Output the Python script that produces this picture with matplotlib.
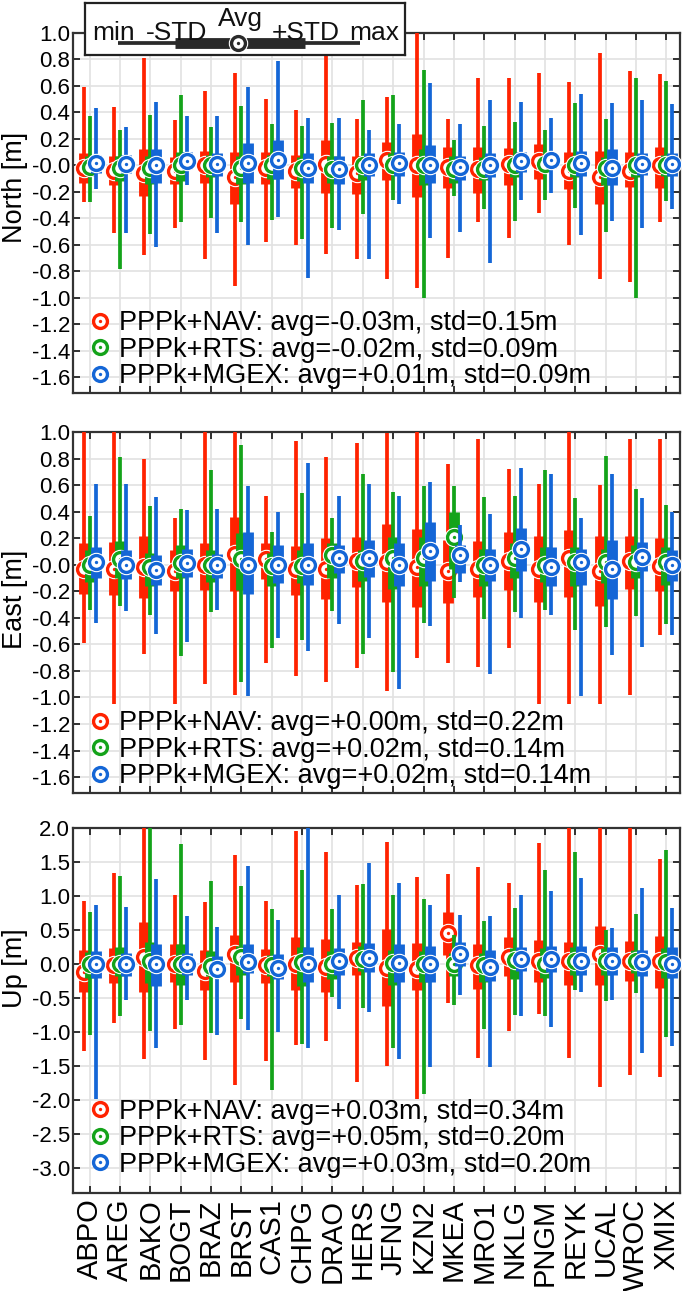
import numpy as np
import matplotlib
matplotlib.use("Agg")
import matplotlib.pyplot as plt
from matplotlib.lines import Line2D
from matplotlib.legend_handler import HandlerTuple

plt.rcParams['font.family'] = ['Liberation Sans', 'DejaVu Sans']
plt.rcParams['axes.unicode_minus'] = False

stations = ["ABPO", "AREG", "BAKO", "BOGT", "BRAZ", "BRST", "CAS1", "CHPG", "DRAO", "HERS",
            "JFNG", "KZN2", "MKEA", "MRO1", "NKLG", "PNGM", "REYK", "UCAL", "WROC", "XMIX"]

# ---- North [m] ----
north_nav_min = [-0.28, -0.51, -0.68, -0.47, -0.71, -0.91, -0.58, -0.60, -0.67, -0.71, -0.86, -0.93, -0.70, -0.43, -0.55, -0.36, -0.60, -0.86, -0.88, -0.43]
north_nav_lo = [-0.13, -0.15, -0.23, -0.14, -0.13, -0.29, -0.14, -0.17, -0.21, -0.22, -0.11, -0.24, -0.17, -0.21, -0.15, -0.10, -0.18, -0.29, -0.16, -0.17]
north_nav_avg = [-0.02, -0.04, -0.06, -0.04, 0.00, -0.09, -0.02, -0.04, 0.01, -0.06, 0.04, 0.00, -0.01, -0.03, 0.01, 0.03, -0.04, -0.09, -0.04, 0.00]
north_nav_hi = [0.09, 0.07, 0.12, 0.06, 0.11, 0.10, 0.10, 0.08, 0.19, 0.07, 0.18, 0.24, 0.14, 0.14, 0.13, 0.16, 0.10, 0.11, 0.10, 0.14]
north_nav_max = [0.59, 0.44, 0.81, 0.34, 0.56, 0.70, 0.50, 0.42, 0.87, 0.35, 0.52, 1.05, 0.35, 0.66, 0.66, 0.70, 0.63, 0.85, 0.71, 0.69]

north_rts_min = [-0.28, -0.78, -0.52, -0.43, -0.40, -0.43, -0.41, -0.56, -0.47, -0.37, -0.26, -1.00, -0.23, -0.33, -0.42, -0.26, -0.32, -0.50, -1.00, -0.27]
north_rts_lo = [-0.08, -0.12, -0.14, -0.12, -0.09, -0.14, -0.10, -0.12, -0.13, -0.11, -0.05, -0.15, -0.13, -0.11, -0.09, -0.05, -0.09, -0.15, -0.09, -0.08]
north_rts_avg = [-0.01, -0.02, -0.02, 0.00, 0.00, -0.02, 0.00, -0.02, -0.03, 0.00, 0.00, 0.00, -0.03, -0.03, 0.00, 0.01, 0.00, -0.02, 0.00, 0.00]
north_rts_hi = [0.07, 0.07, 0.07, 0.10, 0.08, 0.07, 0.08, 0.06, 0.07, 0.07, 0.09, 0.12, 0.07, 0.06, 0.07, 0.07, 0.07, 0.06, 0.07, 0.08]
north_rts_max = [0.37, 0.27, 0.38, 0.53, 0.29, 0.45, 0.31, 0.30, 0.32, 0.49, 0.53, 0.72, 0.19, 0.30, 0.33, 0.27, 0.47, 0.35, 0.66, 0.64]

north_mgex_min = [-0.18, -0.51, -0.62, -0.15, -0.51, -0.60, -0.39, -0.85, -0.49, -0.71, -0.29, -0.55, -0.50, -0.74, -0.26, -0.21, -0.53, -0.42, -0.47, -0.33]
north_mgex_lo = [-0.06, -0.06, -0.13, -0.03, -0.08, -0.13, -0.10, -0.13, -0.14, -0.08, -0.08, -0.13, -0.11, -0.09, -0.05, -0.02, -0.08, -0.15, -0.07, -0.08]
north_mgex_avg = [0.02, 0.01, 0.00, 0.03, 0.01, 0.02, 0.04, -0.02, -0.03, 0.00, 0.02, 0.00, -0.01, 0.00, 0.03, 0.04, 0.02, -0.02, 0.01, 0.01]
north_mgex_hi = [0.08, 0.08, 0.12, 0.10, 0.09, 0.17, 0.19, 0.09, 0.07, 0.09, 0.10, 0.15, 0.07, 0.09, 0.10, 0.09, 0.11, 0.12, 0.09, 0.09]
north_mgex_max = [0.43, 0.29, 0.48, 0.37, 0.37, 0.59, 0.79, 0.36, 0.36, 0.27, 0.31, 0.62, 0.31, 0.49, 0.48, 0.36, 0.54, 0.47, 0.49, 0.46]

# ---- East [m] ----
east_nav_min = [-0.59, -1.05, -0.67, -1.05, -0.90, -0.98, -0.74, -0.84, -0.88, -0.78, -0.95, -0.70, -0.74, -0.77, -0.63, -1.05, -1.05, -1.05, -0.98, -0.53]
east_nav_lo = [-0.22, -0.23, -0.25, -0.20, -0.19, -0.20, -0.11, -0.23, -0.26, -0.17, -0.28, -0.32, -0.29, -0.24, -0.19, -0.28, -0.24, -0.31, -0.18, -0.20]
east_nav_avg = [-0.03, -0.03, -0.02, -0.05, 0.00, 0.08, 0.04, -0.03, -0.03, 0.03, 0.02, -0.02, -0.05, -0.03, 0.03, -0.03, 0.05, -0.05, 0.03, -0.01]
east_nav_hi = [0.16, 0.17, 0.22, 0.11, 0.16, 0.36, 0.16, 0.14, 0.20, 0.21, 0.31, 0.27, 0.19, 0.18, 0.25, 0.22, 0.26, 0.22, 0.22, 0.20]
east_nav_max = [1.05, 1.05, 0.80, 0.35, 1.05, 1.05, 0.52, 0.93, 0.81, 0.92, 0.99, 1.05, 0.76, 0.95, 0.72, 0.61, 1.05, 0.60, 0.95, 0.95]

east_rts_min = [-0.34, -0.31, -0.38, -0.69, -0.36, -0.88, -0.63, -0.57, -0.35, -0.67, -0.81, -0.44, -0.25, -0.41, -0.36, -0.34, -0.49, -0.47, -0.39, -0.45]
east_rts_lo = [-0.13, -0.10, -0.16, -0.10, -0.13, -0.19, -0.16, -0.14, -0.10, -0.12, -0.18, -0.16, -0.03, -0.16, -0.10, -0.13, -0.16, -0.14, -0.10, -0.15]
east_rts_avg = [0.00, 0.04, -0.02, 0.01, 0.00, 0.04, -0.01, -0.01, 0.07, 0.03, 0.05, 0.05, 0.21, 0.00, 0.05, 0.00, 0.02, 0.02, 0.02, 0.02]
east_rts_hi = [0.11, 0.18, 0.09, 0.15, 0.11, 0.24, 0.09, 0.11, 0.16, 0.11, 0.21, 0.21, 0.40, 0.12, 0.16, 0.13, 0.13, 0.12, 0.15, 0.13]
east_rts_max = [0.37, 0.81, 0.44, 0.42, 0.71, 0.90, 0.25, 0.54, 0.35, 0.68, 0.55, 0.59, 0.59, 0.51, 0.52, 0.71, 0.50, 0.82, 0.57, 0.45]

east_mgex_min = [-0.44, -0.35, -0.52, -0.58, -0.34, -0.99, -0.55, -0.65, -0.45, -0.55, -0.94, -0.46, -0.13, -0.82, -0.40, -0.38, -0.99, -0.68, -0.62, -0.53]
east_mgex_lo = [-0.10, -0.11, -0.15, -0.09, -0.10, -0.22, -0.14, -0.15, -0.06, -0.09, -0.16, -0.12, -0.06, -0.12, -0.05, -0.16, -0.15, -0.26, -0.05, -0.12]
east_mgex_avg = [0.02, 0.00, -0.04, 0.01, 0.00, 0.00, 0.00, 0.00, 0.05, 0.05, 0.00, 0.10, 0.07, 0.00, 0.12, -0.02, 0.02, -0.03, 0.06, 0.00]
east_mgex_hi = [0.13, 0.11, 0.07, 0.12, 0.08, 0.25, 0.15, 0.16, 0.15, 0.19, 0.16, 0.32, 0.15, 0.12, 0.28, 0.13, 0.12, 0.19, 0.17, 0.11]
east_mgex_max = [0.61, 0.61, 0.51, 0.41, 0.42, 0.59, 0.40, 0.77, 0.52, 0.61, 0.52, 0.62, 0.30, 0.38, 0.73, 0.68, 0.35, 0.68, 0.50, 0.40]

# ---- Up [m] ----
up_nav_min = [-1.28, -0.87, -1.40, -0.95, -1.41, -1.78, -1.43, -1.19, -1.14, -1.73, -1.50, -1.99, -0.57, -1.38, -0.98, -0.73, -1.38, -1.81, -1.63, -1.66]
up_nav_lo = [-0.42, -0.28, -0.42, -0.26, -0.38, -0.27, -0.28, -0.39, -0.41, -0.16, -0.62, -0.38, 0.13, -0.37, -0.18, -0.27, -0.31, -0.31, -0.25, -0.35]
up_nav_avg = [-0.12, -0.02, 0.10, 0.00, -0.11, 0.14, -0.01, 0.00, -0.05, 0.09, -0.06, -0.07, 0.45, -0.02, 0.10, 0.05, 0.05, 0.14, 0.04, 0.04]
up_nav_hi = [0.20, 0.23, 0.61, 0.30, 0.20, 0.43, 0.22, 0.39, 0.36, 0.32, 0.51, 0.31, 0.76, 0.30, 0.39, 0.35, 0.33, 0.56, 0.34, 0.41]
up_nav_max = [0.92, 1.34, 2.10, 1.01, 0.91, 1.60, 0.92, 1.95, 1.65, 1.16, 1.79, 1.28, 1.33, 1.43, 1.19, 1.78, 2.10, 2.10, 2.10, 1.54]

up_rts_min = [-1.04, -0.77, -0.98, -0.90, -1.01, -0.81, -1.85, -1.18, -0.49, -0.65, -1.23, -1.92, -0.61, -0.95, -0.75, -0.76, -0.38, -0.55, -0.43, -1.08]
up_rts_lo = [-0.20, -0.18, -0.28, -0.31, -0.18, -0.16, -0.18, -0.32, -0.22, -0.11, -0.31, -0.26, -0.18, -0.26, -0.22, -0.21, -0.16, -0.16, -0.13, -0.21]
up_rts_avg = [0.00, 0.00, 0.04, 0.00, -0.03, 0.10, -0.01, 0.03, 0.00, 0.08, 0.01, 0.00, 0.00, -0.01, 0.06, 0.00, 0.04, 0.04, 0.04, 0.03]
up_rts_hi = [0.18, 0.25, 0.33, 0.30, 0.19, 0.26, 0.13, 0.25, 0.19, 0.26, 0.20, 0.19, 0.16, 0.16, 0.24, 0.24, 0.25, 0.24, 0.20, 0.24]
up_rts_max = [0.77, 1.30, 2.10, 1.76, 1.22, 1.15, 0.81, 1.38, 0.81, 1.18, 1.02, 0.96, 0.43, 0.63, 0.83, 1.38, 1.65, 0.50, 0.74, 1.68]

up_mgex_min = [-1.99, -0.53, -1.23, -0.53, -1.04, -0.97, -1.00, -1.23, -0.66, -0.71, -1.40, -1.51, -0.46, -1.52, -0.76, -0.93, -0.42, -0.53, -1.31, -1.21]
up_mgex_lo = [-0.20, -0.18, -0.32, -0.17, -0.16, -0.13, -0.22, -0.26, -0.16, -0.12, -0.26, -0.27, -0.03, -0.25, -0.11, -0.12, -0.17, -0.16, -0.18, -0.21]
up_mgex_avg = [0.00, 0.00, 0.00, 0.00, -0.07, 0.03, -0.06, 0.00, 0.05, 0.09, 0.01, 0.00, 0.14, -0.05, 0.08, 0.08, 0.05, 0.04, 0.03, 0.00]
up_mgex_hi = [0.19, 0.16, 0.29, 0.16, 0.11, 0.30, 0.15, 0.25, 0.24, 0.31, 0.29, 0.26, 0.33, 0.21, 0.25, 0.26, 0.26, 0.25, 0.21, 0.25]
up_mgex_max = [0.86, 0.84, 1.25, 0.70, 0.55, 1.44, 0.65, 2.10, 1.02, 1.48, 1.19, 0.86, 0.72, 0.70, 1.02, 1.07, 1.27, 0.53, 1.11, 0.82]

north_labels = ["PPPk+NAV: avg=-0.03m, std=0.15m", "PPPk+RTS: avg=-0.02m, std=0.09m", "PPPk+MGEX: avg=+0.01m, std=0.09m"]
east_labels = ["PPPk+NAV: avg=+0.00m, std=0.22m", "PPPk+RTS: avg=+0.02m, std=0.14m", "PPPk+MGEX: avg=+0.02m, std=0.14m"]
up_labels = ["PPPk+NAV: avg=+0.03m, std=0.34m", "PPPk+RTS: avg=+0.05m, std=0.20m", "PPPk+MGEX: avg=+0.03m, std=0.20m"]

colors = ['#ff2200', '#14a31a', '#1466d6']
offsets = [-0.2, 0.0, 0.2]


def draw_marker(ax, xs, ys, color, z):
    ax.plot(xs, ys, 'o', ms=13, mfc='white', mec='white', zorder=z, clip_on=False)
    ax.plot(xs, ys, 'o', ms=10, mfc='white', mec=color, mew=2.4, zorder=z + 0.01)
    ax.plot(xs, ys, 'o', ms=2.4, mfc=color, mec=color, mew=0, zorder=z + 0.02)


def draw_panel(ax, series, labels, ylim, yticks, ylabel, label_y, show_names, leg_y):
    x = np.arange(1, len(stations) + 1)
    for k, (mins, lows, avgs, highs, maxs) in enumerate(series):
        xs = x + offsets[k]
        c = colors[k]
        z = 3 + k
        ax.vlines(xs, mins, maxs, color=c, lw=2.7, zorder=z, capstyle='butt')
        ax.vlines(xs, lows, highs, color=c, lw=7.8, zorder=z + 0.1, capstyle='butt')
        draw_marker(ax, xs, avgs, c, z + 0.2)
    ax.set_xlim(0.45, 20.45)
    ax.set_ylim(*ylim)
    ax.set_yticks(yticks)
    ax.yaxis.set_major_formatter(matplotlib.ticker.FormatStrFormatter('%.1f'))
    ax.set_xticks(x)
    ax.grid(True, color='#e2e2e2', lw=1.2)
    ax.set_axisbelow(True)
    ax.tick_params(direction='in', top=True, right=True, length=5, width=1.3,
                   color='#222222', pad=2)
    ax.tick_params(axis='y', labelsize=16)
    if show_names:
        ax.set_xticklabels(stations, rotation=90)
        ax.tick_params(axis='x', labelsize=21, pad=4)
    else:
        ax.set_xticklabels([])
    for s in ax.spines.values():
        s.set_color('#333333')
        s.set_linewidth(1.6)
    ax.set_ylabel(ylabel, fontsize=19.5)
    ax.yaxis.set_label_coords(-0.074, label_y)

    handles = []
    for c in colors:
        ring = Line2D([], [], ls='none', marker='o', ms=10, mfc='white', mec=c, mew=2.4)
        dot = Line2D([], [], ls='none', marker='o', ms=2.4, mfc=c, mec=c, mew=0)
        handles.append((ring, dot))
    ax.legend(handles, labels, loc='lower left', bbox_to_anchor=(0.025, leg_y), frameon=False,
              fontsize=19.5, handler_map={tuple: HandlerTuple(ndivide=1, pad=0)},
              handlelength=0.9, handletextpad=0.25, labelspacing=0.02,
              borderaxespad=0, borderpad=0)


fig = plt.figure(figsize=(6.85, 12.91), dpi=100)
W, H = 685.0, 1291.0
left, right = 73, 680

ax1 = fig.add_axes([left / W, 1 - 393 / H, (right - left) / W, 360 / H])
ax2 = fig.add_axes([left / W, 1 - 793 / H, (right - left) / W, 361 / H])
ax3 = fig.add_axes([left / W, 1 - 1193 / H, (right - left) / W, 365 / H])

draw_panel(ax1,
           [(north_nav_min, north_nav_lo, north_nav_avg, north_nav_hi, north_nav_max),
            (north_rts_min, north_rts_lo, north_rts_avg, north_rts_hi, north_rts_max),
            (north_mgex_min, north_mgex_lo, north_mgex_avg, north_mgex_hi, north_mgex_max)],
           north_labels, (-1.72, 1.0), np.round(np.arange(-1.6, 1.01, 0.2), 1), "North [m]", 0.57, False, 0.01)
draw_panel(ax2,
           [(east_nav_min, east_nav_lo, east_nav_avg, east_nav_hi, east_nav_max),
            (east_rts_min, east_rts_lo, east_rts_avg, east_rts_hi, east_rts_max),
            (east_mgex_min, east_mgex_lo, east_mgex_avg, east_mgex_hi, east_mgex_max)],
           east_labels, (-1.72, 1.0), np.round(np.arange(-1.6, 1.01, 0.2), 1), "East [m]", 0.535, False, 0.01)
draw_panel(ax3,
           [(up_nav_min, up_nav_lo, up_nav_avg, up_nav_hi, up_nav_max),
            (up_rts_min, up_rts_lo, up_rts_avg, up_rts_hi, up_rts_max),
            (up_mgex_min, up_mgex_lo, up_mgex_avg, up_mgex_hi, up_mgex_max)],
           up_labels, (-3.37, 2.0), np.round(np.arange(-3.0, 2.01, 0.5), 1), "Up [m]", 0.615, True, 0.042)

# key box: min -STD Avg +STD max
kx0, ky0, kx1, ky1 = 85, 3, 405, 55
kax = fig.add_axes([kx0 / W, 1 - ky1 / H, (kx1 - kx0) / W, (ky1 - ky0) / H], zorder=10)
kax.set_xlim(0, kx1 - kx0)
kax.set_ylim(ky1 - ky0, 0)
kax.set_xticks([])
kax.set_yticks([])
kax.set_facecolor('white')
for s in kax.spines.values():
    s.set_color('#222222')
    s.set_linewidth(1.6)
kc = '#2a2a2a'
kax.plot([33, 275], [40, 40], color=kc, lw=2.7, solid_capstyle='butt')
kax.plot([90, 220], [40, 40], color=kc, lw=7.8, solid_capstyle='butt')
draw_marker(kax, [153], [40], kc, 5)
for tx, ty, t in [(29, 37, "min"), (92, 37, "-STD"), (155, 23, "Avg"), (221, 37, "+STD"), (289, 37, "max")]:
    kax.text(tx, ty, t, ha='center', va='baseline', fontsize=19, color='#111111')

fig.savefig("out.png", dpi=100)
